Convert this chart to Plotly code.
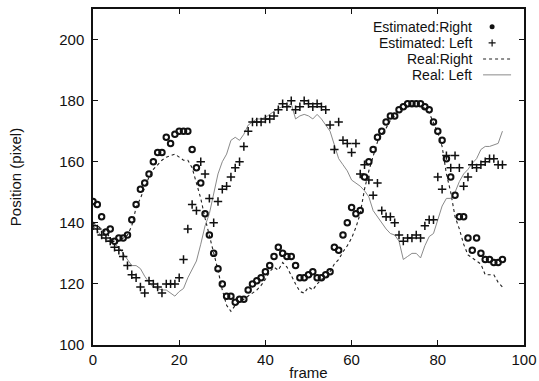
import plotly.graph_objects as go

frames = list(range(96))

est_right = [147,146,142,137,138,134,135,135,136,141,
             146,151,153,156,160,163,163,168,166,169,
             170,170,170,164,158,153,143,136,130,125,
             120,116,116,114,115,115,118,120,121,122,
             124,126,129,132,130,129,129,126,122,122,
             123,124,122,122,123,124,132,131,136,140,
             145,143,144,155,160,164,168,170,173,175,
             175,177,178,179,179,179,179,178,177,173,
             170,167,161,155,149,142,142,135,131,135,
             130,128,128,127,127,128]

est_left = [139,138,136,135,134,132,131,129,126,123,
            122,119,117,121,120,119,117,120,120,120,
            122,128,138,146,144,160,156,148,140,147,
            151,152,155,158,160,165,170,173,173,173,
            174,174,175,177,179,178,180,177,178,180,
            179,178,179,178,177,172,164,173,167,166,
            163,166,156,159,154,149,153,144,142,142,
            140,136,134,135,135,136,135,139,141,141,
            155,151,162,158,162,158,152,155,159,158,
            159,160,161,161,159,159]

real_right = [140,139,138,137,135,134,134,135,136,139,
              145,148,151.5,155,157.5,159,160.5,161.5,162,162.5,
              161.5,160.5,160.5,158,153,148,141.5,136,130,124.5,
              118,113,111,113,114,115,116,117,118,119.5,
              121.5,124,125.5,124.5,127,125.5,122.5,120,117.5,117,
              119,118,120,121.5,122,124,126.5,128,130.5,132.5,
              135,138.5,143,151,157,162,166.5,169,171,173.5,
              175,177,177.5,178,178.5,178.5,178,177.5,176,173,
              169.5,165,156,150,142,138,133,129.5,128.5,127.5,
              126.5,123,123,123,120.5,119]

real_left = [139,137.5,135.5,134.5,134,133,132,130,128,126,
             126,125,122.5,120.5,119,118.5,118,118,117,116,
             117.5,118.5,122,124.5,127.5,133,139,143,150,156,
             160,162.5,167,168,167,169,172,173,174,174,
             174.5,175.5,176.5,177.5,178,178,179,174,175,175.5,
             175,174,175.5,174,172,170,165.5,161,159,157,
             154,153,152,150.5,148.5,144,142,140,138,136.5,
             136,134,128,129,130,130,128.5,132.5,135.5,136.5,
             141,145.5,148,148,150,153.5,156,157.5,159.5,161,
             164,165,165,165.5,166,170]

legend_labels = ["Estimated:Right", "Estimated: Left", "Real:Right", "Real: Left"]

x_ticks = [0, 20, 40, 60, 80, 100]
y_ticks = [100, 120, 140, 160, 180, 200]

FONT = "Liberation Sans, Arial, sans-serif"

right_marker = dict(symbol="circle-open", size=5.5, color="#111",
                    line=dict(width=2, color="#111"))
left_marker = dict(symbol="cross-thin", size=6, color="#111",
                   line=dict(width=1.5, color="#111"))
right_line = dict(color="#222", width=1.1, dash="dot")
left_line = dict(color="#8a8a8a", width=1)

fig = go.Figure()
fig.add_trace(go.Scatter(x=frames, y=real_right, mode="lines", line=right_line,
                         name=legend_labels[2], showlegend=False))
fig.add_trace(go.Scatter(x=frames, y=real_left, mode="lines", line=left_line,
                         name=legend_labels[3], showlegend=False))
fig.add_trace(go.Scatter(x=frames, y=est_right, mode="markers", marker=right_marker,
                         name=legend_labels[0], showlegend=False))
fig.add_trace(go.Scatter(x=frames, y=est_left, mode="markers", marker=left_marker,
                         name=legend_labels[1], showlegend=False))

# custom gnuplot-style key (text right, sample left) on an overlay axis
key_y = [0.947, 0.899, 0.851, 0.804]
key_text_x = 0.882
key_mark_x = 0.926
key_line_x = [0.905, 0.970]
fig.add_trace(go.Scatter(x=[key_mark_x], y=[key_y[0]], mode="markers",
                         marker=dict(symbol="circle", size=5, color="#111"),
                         xaxis="x2", yaxis="y2", showlegend=False, hoverinfo="skip"))
fig.add_trace(go.Scatter(x=[key_mark_x], y=[key_y[1]], mode="markers",
                         marker=dict(symbol="cross-thin", size=5, line=dict(width=1.2, color="#111")),
                         xaxis="x2", yaxis="y2", showlegend=False, hoverinfo="skip"))
fig.add_trace(go.Scatter(x=key_line_x, y=[key_y[2]] * 2, mode="lines", line=right_line,
                         xaxis="x2", yaxis="y2", showlegend=False, hoverinfo="skip"))
fig.add_trace(go.Scatter(x=key_line_x, y=[key_y[3]] * 2, mode="lines", line=left_line,
                         xaxis="x2", yaxis="y2", showlegend=False, hoverinfo="skip"))

for lbl, ky in zip(legend_labels, key_y):
    fig.add_annotation(text=lbl, x=key_text_x, y=ky, xref="paper", yref="paper",
                       xanchor="right", yanchor="middle", showarrow=False,
                       borderpad=0,
                       font=dict(family=FONT, size=14, color="#111"))

axis_common = dict(showline=True, linecolor="#111", linewidth=1.5, mirror="ticks",
                   ticks="inside", ticklen=5, tickwidth=1, tickcolor="#111",
                   showgrid=False, zeroline=False, automargin=False,
                   tickfont=dict(family=FONT, size=15, color="#111"))

fig.update_layout(
    width=539, height=381,
    margin=dict(l=93, r=15, t=9, b=36),
    paper_bgcolor="white", plot_bgcolor="white",
    showlegend=False,
    xaxis=dict(range=[0, 100], tickvals=x_ticks, ticklabelstandoff=0,
               title=dict(text="frame", font=dict(family=FONT, size=15, color="#111"), standoff=8),
               **axis_common),
    yaxis=dict(range=[100, 210], tickvals=y_ticks, ticklabelstandoff=4,
               title=dict(text="Position (pixel)", font=dict(family=FONT, size=15, color="#111"), standoff=34),
               **axis_common),
    xaxis2=dict(overlaying="x", range=[0, 1], visible=False),
    yaxis2=dict(overlaying="y", range=[0, 1], visible=False),
)

fig.write_html("out.html")
